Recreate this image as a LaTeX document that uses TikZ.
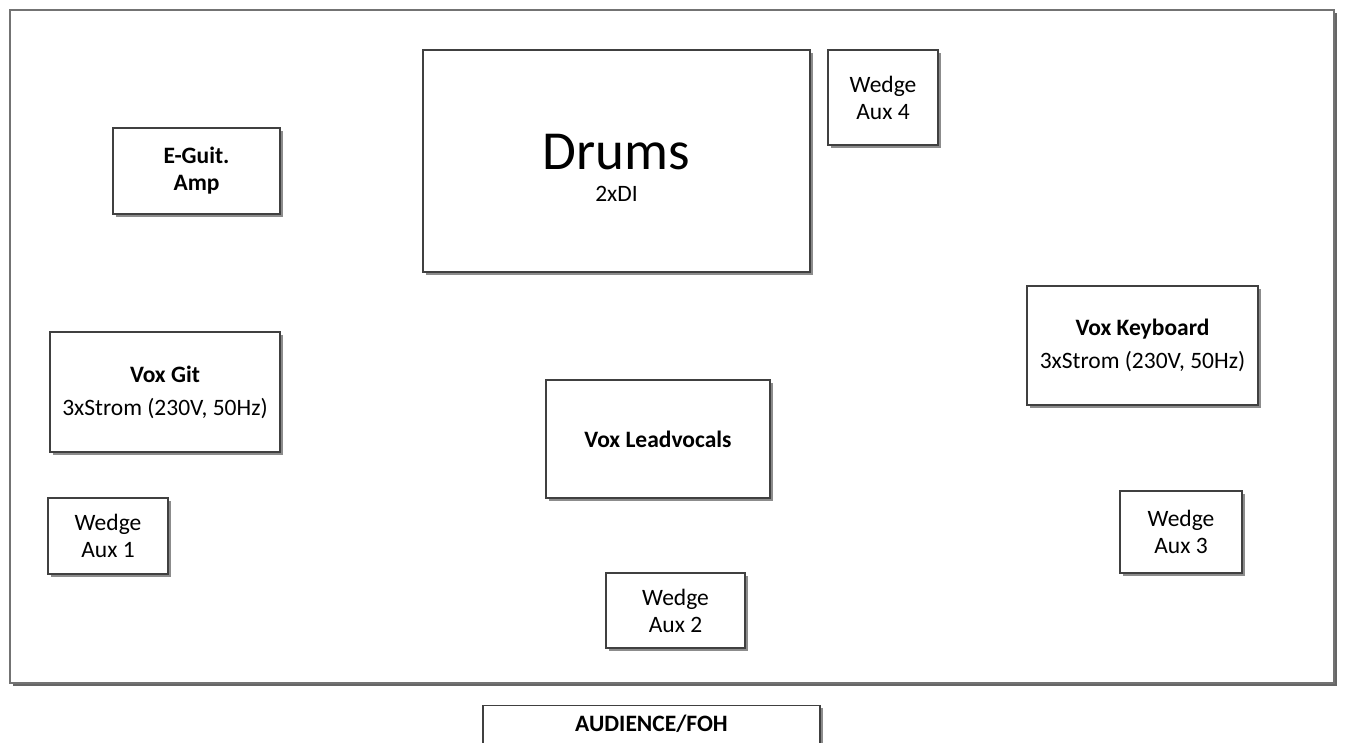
\documentclass[tikz,border=0pt]{standalone}
\usepackage{fontspec}
\setmainfont{Carlito}
\usetikzlibrary{shadows}
\begin{document}
\begin{tikzpicture}[x=1pt,y=-1pt,
  box/.style={draw=black!75,line width=1.2pt,fill=white,inner sep=0pt,align=center,
    drop shadow={shadow xshift=2.5pt,shadow yshift=-2.5pt,fill=black!45,opacity=1},
    font=\fontsize{23.5}{27}\selectfont},
  stagebox/.style={draw=black!55,line width=1.5pt,fill=white,inner sep=0pt,
    drop shadow={shadow xshift=2.5pt,shadow yshift=-2.5pt,fill=black!60,opacity=1}},
  bold/.style={font=\fontsize{23.5}{27}\selectfont\bfseries}]
\useasboundingbox (0,0) rectangle (1347,742);
\fill[white] (0,0) rectangle (1347,742);
\node[stagebox,minimum width=1324pt,minimum height=673pt] (stage) at (672,346.5) {};
\node[box,minimum width=387pt,minimum height=222pt] (drums) at (616.5,161) {};
\node[align=center,font=\fontsize{23.5}{27}\selectfont] (drumstext) at (616.5,168)
  {{\fontsize{55}{55}\selectfont Drums}\\[5pt]2xDI};
\node[box,minimum width=110pt,minimum height=95pt] (aux4) at (883,97.5) {Wedge\\Aux 4};
\node[box,minimum width=167pt,minimum height=86pt] (amp) at (196.5,171) {\bfseries E-Guit.\\\bfseries Amp};
\node[box,minimum width=230pt,minimum height=120pt] (voxgit) at (165,392) {\bfseries Vox Git\\[6pt]3xStrom (230V, 50Hz)};
\node[box,minimum width=231pt,minimum height=119pt] (voxkey) at (1142.5,345.5) {\bfseries Vox Keyboard\\[6pt]3xStrom (230V, 50Hz)};
\node[box,minimum width=224pt,minimum height=118pt] (lead) at (658,439) {\bfseries Vox Leadvocals};
\node[box,minimum width=120pt,minimum height=76pt] (aux1) at (108,536) {Wedge\\Aux 1};
\node[box,minimum width=139pt,minimum height=75pt] (aux2) at (675.5,610.5) {Wedge\\Aux 2};
\node[box,minimum width=122pt,minimum height=82pt] (aux3) at (1181,532) {Wedge\\Aux 3};
\node[box,anchor=north,minimum width=337pt,minimum height=80pt] (aud) at (651.5,705) {};
\node[bold] (audtext) at (651.5,724) {AUDIENCE/FOH};
\end{tikzpicture}
\end{document}
